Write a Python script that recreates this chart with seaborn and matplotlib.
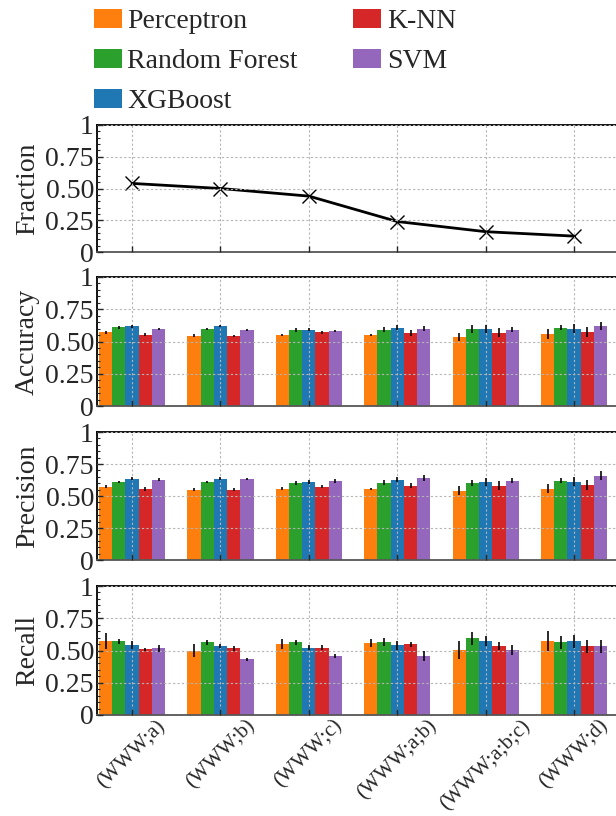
import numpy as np
import pandas as pd
import matplotlib
matplotlib.use("Agg")
import matplotlib.pyplot as plt
from matplotlib.container import BarContainer
import seaborn as sns

# ---------------- data ----------------
groups = ["(WWW;a)", "(WWW;b)", "(WWW;c)", "(WWW;a;b)", "(WWW;a;b;c)", "(WWW;d)"]
models = ["Perceptron", "Random Forest", "XGBoost", "K-NN", "SVM"]
colors = ["#ff7f0e", "#2ca02c", "#1f77b4", "#d62728", "#9467bd"]

fraction = [0.54, 0.50, 0.44, 0.24, 0.16, 0.125]

# rows = groups, columns = models (Perceptron, RF, XGBoost, K-NN, SVM)
accuracy = [
    [0.570, 0.609, 0.617, 0.552, 0.598],
    [0.544, 0.598, 0.617, 0.544, 0.591],
    [0.552, 0.591, 0.591, 0.570, 0.583],
    [0.552, 0.591, 0.606, 0.567, 0.598],
    [0.536, 0.598, 0.598, 0.567, 0.591],
    [0.560, 0.606, 0.598, 0.575, 0.622],
]
accuracy_err = [
    [0.012, 0.010, 0.010, 0.012, 0.010],
    [0.012, 0.008, 0.008, 0.010, 0.008],
    [0.010, 0.015, 0.012, 0.012, 0.010],
    [0.008, 0.020, 0.020, 0.025, 0.020],
    [0.030, 0.030, 0.030, 0.035, 0.020],
    [0.040, 0.020, 0.035, 0.040, 0.030],
]
precision = [
    [0.572, 0.611, 0.634, 0.557, 0.626],
    [0.549, 0.611, 0.634, 0.549, 0.634],
    [0.557, 0.603, 0.611, 0.572, 0.619],
    [0.557, 0.603, 0.626, 0.580, 0.642],
    [0.541, 0.603, 0.611, 0.580, 0.619],
    [0.557, 0.619, 0.611, 0.588, 0.657],
]
precision_err = [
    [0.012, 0.010, 0.012, 0.015, 0.012],
    [0.012, 0.008, 0.012, 0.010, 0.010],
    [0.010, 0.015, 0.015, 0.012, 0.015],
    [0.008, 0.020, 0.020, 0.020, 0.025],
    [0.035, 0.025, 0.030, 0.035, 0.020],
    [0.035, 0.020, 0.035, 0.040, 0.035],
]
recall = [
    [0.573, 0.573, 0.541, 0.508, 0.516],
    [0.497, 0.565, 0.534, 0.516, 0.433],
    [0.549, 0.565, 0.523, 0.523, 0.456],
    [0.557, 0.565, 0.541, 0.549, 0.456],
    [0.503, 0.596, 0.573, 0.534, 0.503],
    [0.573, 0.565, 0.573, 0.534, 0.534],
]
recall_err = [
    [0.063, 0.020, 0.030, 0.010, 0.025],
    [0.050, 0.020, 0.015, 0.020, 0.012],
    [0.040, 0.020, 0.020, 0.020, 0.015],
    [0.030, 0.030, 0.035, 0.020, 0.040],
    [0.070, 0.050, 0.040, 0.030, 0.040],
    [0.075, 0.050, 0.050, 0.050, 0.050],
]

ytick_vals = [0, 0.25, 0.5, 0.75, 1]
ytick_labels = ["0", "0.25", "0.50", "0.75", "1"]

# ---------------- style ----------------
sns.set_style("white")
plt.rcParams["font.family"] = ["Liberation Serif", "DejaVu Serif"]
plt.rcParams["mathtext.fontset"] = "stix"
plt.rcParams["axes.unicode_minus"] = False

FS = 20
fig = plt.figure(figsize=(6.16, 8.16), dpi=100)

left = 96.7 / 616
width = 530.4 / 616
H = 816.0
panel_px = [(125, 252), (277, 406), (432, 560), (586, 715)]
axes = []
for top, bot in panel_px:
    axes.append(fig.add_axes([left, 1 - bot / H, width, (bot - top) / H]))

palette = dict(zip(models, colors))


def style_axis(ax, ylabel):
    ax.set_xlim(-0.4, 5.6)
    ax.set_ylim(0, 1)
    ax.set_yticks(ytick_vals)
    ax.set_yticklabels(ytick_labels, fontsize=FS)
    ax.set_yticks(np.arange(0, 1.0001, 0.05), minor=True)
    ax.set_xticks(range(len(groups)))
    ax.tick_params(axis="both", which="major", direction="in", length=4, width=1,
                   pad=2, top=False, right=False, bottom=True, left=True)
    ax.tick_params(axis="x", which="major", pad=1)
    ax.tick_params(axis="y", which="minor", direction="in", length=2.5, width=0.8, left=True)
    ax.grid(True, which="major", color="#b5b5b5", linestyle=(0, (2, 2)), linewidth=0.8)
    ax.set_axisbelow(False)
    ax.set_ylabel(ylabel, fontsize=FS, labelpad=4)
    for s in ["top", "bottom", "left", "right"]:
        ax.spines[s].set_color("black")
        ax.spines[s].set_linewidth(1.3)
    ax.spines["bottom"].set_color("#555555")
    ax.set_xlabel("")


# Fraction panel
ax0 = axes[0]
sns.lineplot(x=list(range(len(groups))), y=fraction, ax=ax0, color="black",
             linewidth=2, marker="x", markersize=10, markeredgewidth=1.0,
             markeredgecolor="black")
style_axis(ax0, "Fraction")
ax0.set_xticklabels([])

metric_sets = [("Accuracy", accuracy, accuracy_err),
               ("Precision", precision, precision_err),
               ("Recall", recall, recall_err)]

for ax, (name, vals, errs) in zip(axes[1:], metric_sets):
    rows = []
    for gi, g in enumerate(groups):
        for mi, m in enumerate(models):
            rows.append({"group": g, "model": m, "value": vals[gi][mi]})
    df = pd.DataFrame(rows)
    sns.barplot(data=df, x="group", y="value", hue="model", order=groups,
                hue_order=models, palette=palette, errorbar=None, width=0.75,
                saturation=1, linewidth=0, ax=ax, legend=(name == "Accuracy"))
    bar_conts = [c for c in ax.containers if isinstance(c, BarContainer)]
    for mi, cont in enumerate(bar_conts):
        xs = [p.get_x() + p.get_width() / 2 for p in cont.patches]
        hs = [p.get_height() for p in cont.patches]
        e = [errs[gi][mi] for gi in range(len(groups))]
        ax.errorbar(xs, hs, yerr=e, fmt="none", ecolor="black", elinewidth=1.3,
                    capsize=0, alpha=0.9, zorder=5)
    style_axis(ax, name)
    if name != "Recall":
        ax.set_xticklabels([])
    else:
        ax.set_xticklabels(groups, fontsize=15, rotation=45, ha="center", va="top")

handles, labels = axes[1].get_legend_handles_labels()
axes[1].get_legend().remove()
fig.legend(handles, labels, loc="upper left", bbox_to_anchor=(94 / 616, 1 - 9 / H),
           ncol=2, frameon=False, fontsize=FS, handlelength=1.0, handleheight=0.7,
           handletextpad=0.2, columnspacing=2.0, labelspacing=0.52, borderpad=0,
           borderaxespad=0)

fig.savefig("out.png", dpi=100)
